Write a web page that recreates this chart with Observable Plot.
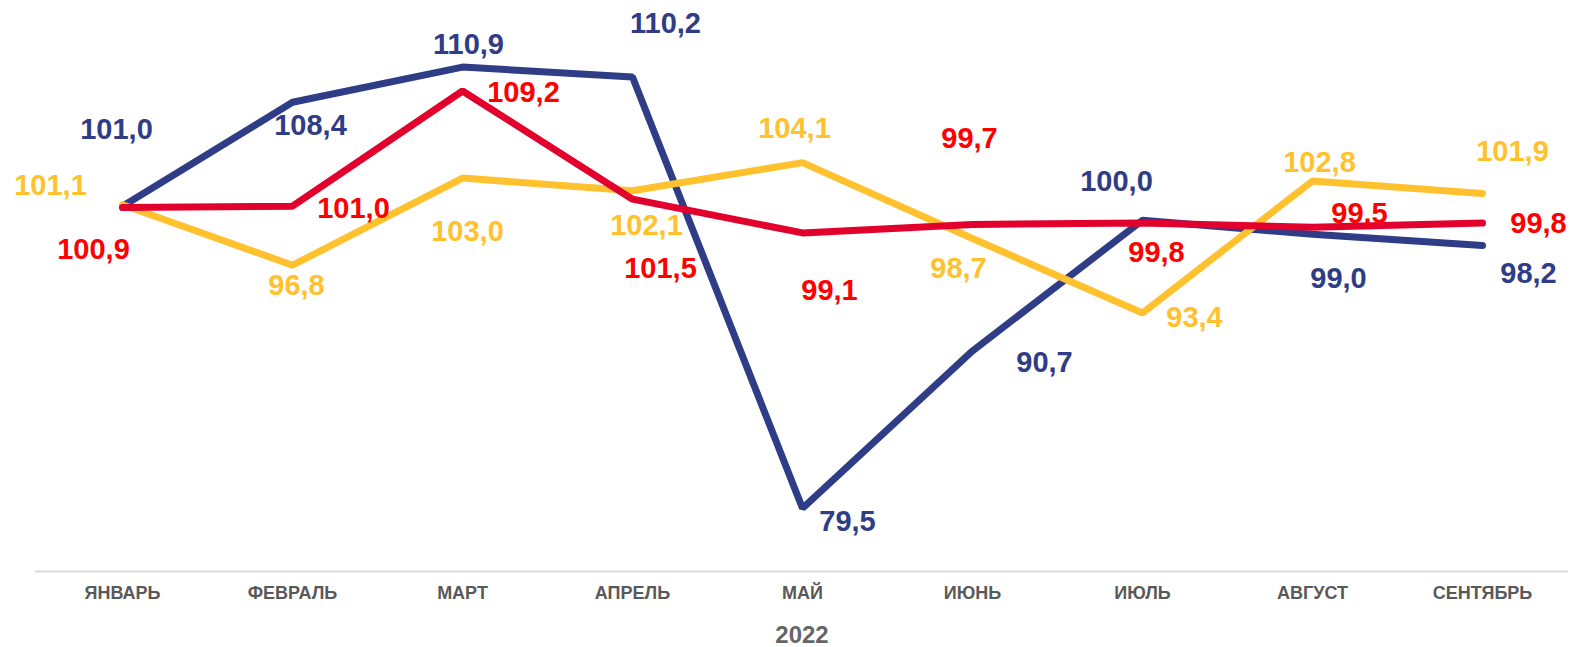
<!DOCTYPE html>
<html>
<head>
<meta charset="utf-8">
<script src="https://cdn.jsdelivr.net/npm/d3@7"></script>
<script src="https://cdn.jsdelivr.net/npm/@observablehq/plot@0.6"></script>
<style>
  html, body { margin: 0; padding: 0; background: #fff; }
  #chart svg { display: block; }
  g[aria-label^="x-axis"] text { font-family: "Liberation Sans", Arial, sans-serif; font-weight: bold; font-size: 18px; fill: #595959; }
</style>
</head>
<body>
<div id="chart"></div>
<script>
// ---- data ----
const months = ["ЯНВАРЬ", "ФЕВРАЛЬ", "МАРТ", "АПРЕЛЬ", "МАЙ", "ИЮНЬ", "ИЮЛЬ", "АВГУСТ", "СЕНТЯБРЬ"];
const seriesBlue   = [101.0, 108.4, 110.9, 110.2, 79.5, 90.7, 100.0, 99.0, 98.2];
const seriesYellow = [101.1, 96.8, 103.0, 102.1, 104.1, 98.7, 93.4, 102.8, 101.9];
const seriesRed    = [100.9, 101.0, 109.2, 101.5, 99.1, 99.7, 99.8, 99.5, 99.8];
const yearLabel = "2022";

// ---- label placement (pixel offsets from the point) ----
const offsBlue   = [[-6,-76],[18,23],[6,-22],[33,-53],[45,13],[72,12],[-26,-39],[26,44],[46,28]];
const offsYellow = [[-72,-19],[4,21],[5,54],[14,35],[-8,-34],[-14,30],[52,5],[7,-18],[30,-42]];
const offsRed    = [[-29,42],[61,3],[61,2],[28,70],[27,58],[-3,-86],[14,30],[47,-14],[56,1]];

const colors = {
  blue:   {line: "#2F3C86", text: "#2F3C86"},
  yellow: {line: "#FFC22E", text: "#FFC22E"},
  red:    {line: "#E2002C", text: "#FF0000"}
};

const fmt = v => v.toFixed(1).replace(".", ",");
const toRows = vals => months.map((m, i) => ({month: m, value: vals[i]}));

const series = [
  {rows: toRows(seriesBlue), offs: offsBlue, c: colors.blue},
  {rows: toRows(seriesYellow), offs: offsYellow, c: colors.yellow},
  {rows: toRows(seriesRed), offs: offsRed, c: colors.red}
];

const marks = [
  Plot.ruleY([75], {stroke: "#d9d9d9", strokeWidth: 2})
];
for (const s of series) {
  marks.push(Plot.line(s.rows, {
    x: "month", y: "value", stroke: s.c.line, strokeWidth: 7,
    strokeLinecap: "round", strokeLinejoin: "miter"
  }));
}
for (const s of series) {
  s.rows.forEach((r, i) => {
    marks.push(Plot.text([r], {
      x: "month", y: "value", text: d => fmt(d.value),
      dx: s.offs[i][0], dy: s.offs[i][1],
      fill: s.c.text, fontSize: 29, fontWeight: "bold",
      fontFamily: "Liberation Sans, Arial, sans-serif",
      lineAnchor: "middle", textAnchor: "middle"
    }));
  });
}
marks.push(Plot.text([yearLabel], {
  frameAnchor: "bottom", text: d => d, dy: 64,
  fill: "#666666", fontSize: 24, fontWeight: "bold",
  fontFamily: "Liberation Sans, Arial, sans-serif", lineAnchor: "middle"
}));

const chart = Plot.plot({
  width: 1573,
  height: 647,
  marginLeft: 35,
  marginRight: 5,
  marginTop: 9,
  marginBottom: 76,
  style: {background: "#fff", fontFamily: "Liberation Sans, Arial, sans-serif"},
  x: {type: "point", domain: months, padding: 0.5, tickSize: 0, tickPadding: 15, label: null},
  y: {domain: [75, 115], axis: null},
  marks
});
document.getElementById("chart").appendChild(chart);
</script>
</body>
</html>
